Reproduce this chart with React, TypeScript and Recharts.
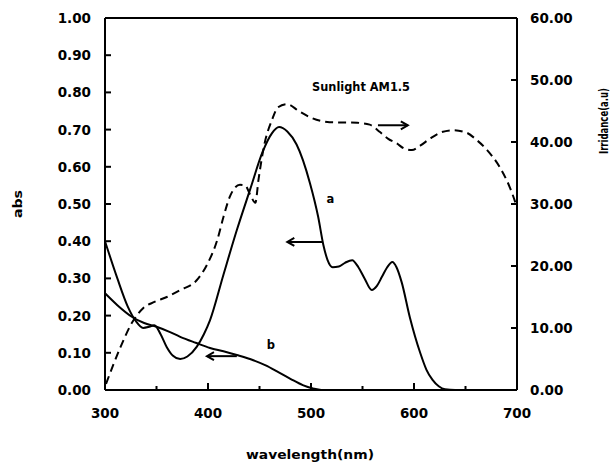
import React from 'react';
import { LineChart, Line, XAxis, YAxis, ReferenceLine, ReferenceDot } from 'recharts';

// curve a (left axis, abs)
const curveAWl = [300, 312, 322, 330, 337, 343, 348, 354, 360, 366, 373, 380, 389, 396, 402, 415, 428, 441, 453, 462, 469, 477, 486, 499, 507, 512, 516, 521, 527, 533, 540, 546, 552, 559, 564, 569, 574, 579, 583, 588, 596, 606, 612, 618, 624, 630, 640, 700];
const curveAAbs = [0.4, 0.3, 0.225, 0.185, 0.167, 0.17, 0.174, 0.15, 0.115, 0.092, 0.083, 0.09, 0.116, 0.15, 0.188, 0.31, 0.43, 0.54, 0.64, 0.69, 0.707, 0.695, 0.66, 0.556, 0.465, 0.39, 0.35, 0.33, 0.332, 0.342, 0.349, 0.33, 0.3, 0.269, 0.28, 0.305, 0.33, 0.344, 0.33, 0.29, 0.195, 0.1, 0.055, 0.027, 0.01, 0.002, 0, 0];

// curve b (left axis, abs)
const curveBWl = [300, 312, 326, 338, 350, 362, 373, 388, 402, 415, 428, 444, 456, 467, 480, 492, 502, 510, 700];
const curveBAbs = [0.26, 0.228, 0.197, 0.18, 0.17, 0.157, 0.143, 0.127, 0.113, 0.104, 0.094, 0.08, 0.066, 0.05, 0.03, 0.013, 0.004, 0, 0];

// Sunlight AM1.5 (right axis, irradiance)
const sunWl = [301, 315, 326, 337, 348, 360, 373, 389, 399, 409, 415, 421, 426, 431, 436, 441, 446, 449, 455, 462, 468, 477, 488, 499, 518, 545, 557, 567, 575, 583, 591, 598, 606, 616, 627, 638, 651, 661, 671, 683, 693, 700];
const sunIrr = [1.0, 6.9, 10.8, 13.2, 14.2, 15.0, 16.1, 17.7, 20.2, 24.2, 27.9, 31.1, 32.6, 33.1, 33.0, 31.5, 30.2, 33.9, 39.8, 43.5, 45.6, 46.1, 45.0, 44.0, 43.2, 43.1, 42.8, 41.6, 40.5, 39.8, 38.9, 38.7, 39.4, 40.6, 41.6, 41.9, 41.5, 40.3, 38.7, 36.0, 32.7, 29.5];

const xTicks = [300, 350, 400, 450, 500, 550, 600, 650, 700];
const absTicks = [0, 0.1, 0.2, 0.3, 0.4, 0.5, 0.6, 0.7, 0.8, 0.9, 1.0];
const irrTicks = [0, 10, 20, 30, 40, 50, 60];

const dataA = curveAWl.map((x, i) => ({ x, y: curveAAbs[i] }));
const dataB = curveBWl.map((x, i) => ({ x, y: curveBAbs[i] }));
const dataSun = sunWl.map((x, i) => ({ x, y: sunIrr[i] }));

const FONT = '"DejaVu Sans", Arial, sans-serif';

const XTick = (props: any) => {
  const { x, y, payload } = props;
  const major = payload.value % 100 === 0;
  return (
    <g>
      <line x1={x} y1={y} x2={x} y2={y - (major ? 7 : 4)} stroke="#000" strokeWidth={2} />
      {major && (
        <text x={x} y={y + 28} textAnchor="middle" fontFamily={FONT} fontWeight="bold" fontSize={13.5} fill="#000">
          {payload.value}
        </text>
      )}
    </g>
  );
};

const LeftTick = (props: any) => {
  const { x, y, payload } = props;
  return (
    <g>
      <line x1={x} y1={y} x2={x + 6} y2={y} stroke="#000" strokeWidth={2} />
      <text x={x - 14} y={y + 5} textAnchor="end" fontFamily={FONT} fontWeight="bold" fontSize={13.5} fill="#000">
        {Number(payload.value).toFixed(2)}
      </text>
    </g>
  );
};

const RightTick = (props: any) => {
  const { x, y, payload } = props;
  return (
    <g>
      <line x1={x} y1={y} x2={x - 6} y2={y} stroke="#000" strokeWidth={2} />
      <text x={x + 13} y={y + 5} textAnchor="start" fontFamily={FONT} fontWeight="bold" fontSize={13.5} fill="#000">
        {Number(payload.value).toFixed(2)}
      </text>
    </g>
  );
};

const arrow = (head: 'start' | 'end') => (props: any) => {
  const { x1, y1, x2, y2 } = props;
  const hx = head === 'start' ? Math.min(x1, x2) : Math.max(x1, x2);
  const d = head === 'start' ? 7 : -7;
  return (
    <g>
      <line x1={x1} y1={y1} x2={x2} y2={y2} stroke="#000" strokeWidth={2} />
      <path d={`M${hx + d},${y1 - 4} L${hx},${y1} L${hx + d},${y1 + 4}`} fill="none" stroke="#000" strokeWidth={2} />
    </g>
  );
};

const label = (text: string, size: number, len?: number) => (props: any) => (
  <text
    x={props.cx}
    y={props.cy}
    fontFamily={FONT}
    fontWeight="bold"
    fontSize={size}
    fill="#000"
    textLength={len}
    lengthAdjust={len ? 'spacingAndGlyphs' : undefined}
  >
    {text}
  </text>
);

export default function App() {
  return (
    <div style={{ position: 'fixed', left: 0, top: 0, width: 612, height: 466, background: '#fff' }}>
      <LineChart width={612} height={466} margin={{ top: 18, right: 35, bottom: 36, left: 45 }}>
        <XAxis
          dataKey="x"
          type="number"
          domain={[300, 700]}
          ticks={xTicks}
          height={40}
          tickSize={0}
          tickMargin={0}
          tickLine={false}
          tick={XTick}
          axisLine={{ stroke: '#000', strokeWidth: 2 }}
          allowDuplicatedCategory={false}
        />
        <YAxis
          yAxisId="left"
          domain={[0, 1]}
          ticks={absTicks}
          width={60}
          tickSize={0}
          tickMargin={0}
          tickLine={false}
          tick={LeftTick}
          axisLine={{ stroke: '#000', strokeWidth: 2 }}
        />
        <YAxis
          yAxisId="right"
          orientation="right"
          domain={[0, 60]}
          ticks={irrTicks}
          width={60}
          tickSize={0}
          tickMargin={0}
          tickLine={false}
          tick={RightTick}
          axisLine={{ stroke: '#000', strokeWidth: 2 }}
        />
        <ReferenceLine yAxisId="left" y={1} stroke="#000" strokeWidth={2} />
        <Line yAxisId="left" data={dataA} dataKey="y" type="monotone" stroke="#000" strokeWidth={2} dot={false} isAnimationActive={false} />
        <Line yAxisId="left" data={dataB} dataKey="y" type="monotone" stroke="#000" strokeWidth={2} dot={false} isAnimationActive={false} />
        <Line yAxisId="right" data={dataSun} dataKey="y" type="monotone" stroke="#000" strokeWidth={2} strokeDasharray="8 5" dot={false} isAnimationActive={false} />

        <ReferenceLine yAxisId="left" segment={[{ x: 477, y: 0.398 }, { x: 511, y: 0.398 }]} shape={arrow('start')} />
        <ReferenceLine yAxisId="left" segment={[{ x: 399, y: 0.091 }, { x: 428, y: 0.091 }]} shape={arrow('start')} />
        <ReferenceLine yAxisId="right" segment={[{ x: 565, y: 42.7 }, { x: 594, y: 42.7 }]} shape={arrow('end')} />

        <ReferenceDot yAxisId="left" x={501} y={0.804} r={0} shape={label('Sunlight AM1.5', 11.5, 98)} />
        <ReferenceDot yAxisId="left" x={515} y={0.503} r={0} shape={label('a', 11.5)} />
        <ReferenceDot yAxisId="left" x={457} y={0.11} r={0} shape={label('b', 11.5)} />
      </LineChart>
      <svg width={612} height={466} style={{ position: 'absolute', left: 0, top: 0, pointerEvents: 'none' }}>
        <text x={310} y={459} textAnchor="middle" fontFamily={FONT} fontWeight="bold" fontSize={13} textLength={128} lengthAdjust="spacingAndGlyphs">
          wavelength(nm)
        </text>
        <text transform="translate(22,204) rotate(-90)" textAnchor="middle" fontFamily={FONT} fontWeight="bold" fontSize={13} textLength={28} lengthAdjust="spacingAndGlyphs">
          abs
        </text>
        <text transform="translate(608,121) rotate(-90)" textAnchor="middle" fontFamily={FONT} fontWeight="bold" fontSize={13} textLength={66} lengthAdjust="spacingAndGlyphs">
          Irridance(a.u)
        </text>
      </svg>
    </div>
  );
}
